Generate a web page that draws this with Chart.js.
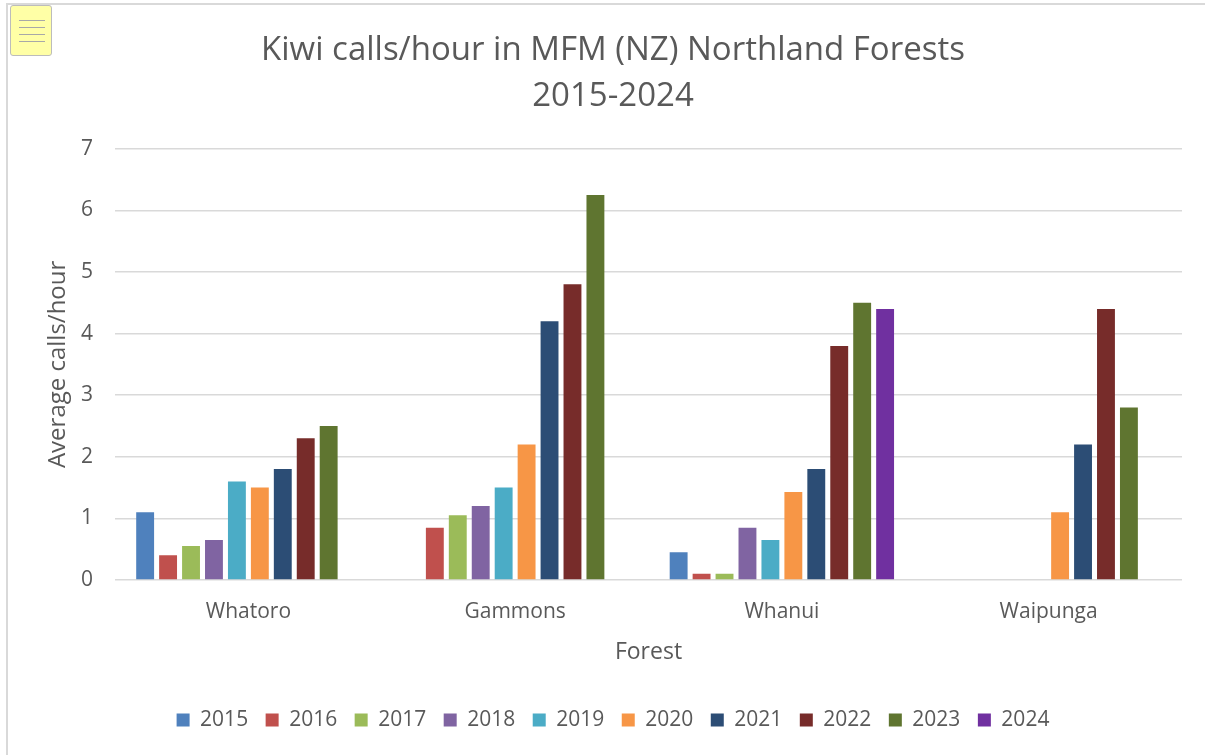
<!DOCTYPE html>
<html>
<head>
<meta charset="utf-8">
<script src="https://cdn.jsdelivr.net/npm/chart.js@4"></script>
<style>
  html, body { margin: 0; padding: 0; background: #fff; }
  #wrap { position: relative; width: 1205px; height: 755px; overflow: hidden; }
  #frameTop { position: absolute; left: 6px; top: 3px; width: 1199px; height: 2px; background: #d9d9d9; }
  #frameLeft { position: absolute; left: 6px; top: 3px; width: 2px; height: 752px; background: #d9d9d9; }
  #note { position: absolute; left: 10px; top: 5px; width: 40px; height: 49px; background: #ffffa6;
          border: 1px solid #bcbcbc; border-radius: 3px; }
  #note div { position: absolute; left: 8px; width: 26px; height: 1px; background: #a8a8a8; }
  canvas { position: absolute; left: 0; top: 0; }
</style>
</head>
<body>
<div id="wrap">
  <canvas id="chart" width="1205" height="755"></canvas>
  <div id="frameTop"></div>
  <div id="frameLeft"></div>
  <div id="note"><div style="top:14px"></div><div style="top:21px"></div><div style="top:28px"></div><div style="top:35px"></div></div>
</div>
<script>
// Forests on the x axis
const forests = ['Whatoro', 'Gammons', 'Whanui', 'Waipunga'];

// Average calls/hour per year, one value per forest (null = no survey)
const y2015 = [1.1, null, 0.45, null];
const y2016 = [0.4, 0.85, 0.1, null];
const y2017 = [0.55, 1.05, 0.1, null];
const y2018 = [0.65, 1.2, 0.85, null];
const y2019 = [1.6, 1.5, 0.65, null];
const y2020 = [1.5, 2.2, 1.43, 1.1];
const y2021 = [1.8, 4.2, 1.8, 2.2];
const y2022 = [2.3, 4.8, 3.8, 4.4];
const y2023 = [2.5, 6.25, 4.5, 2.8];
const y2024 = [null, null, 4.4, null];

const years = ['2015', '2016', '2017', '2018', '2019', '2020', '2021', '2022', '2023', '2024'];
const seriesValues = [y2015, y2016, y2017, y2018, y2019, y2020, y2021, y2022, y2023, y2024];

const YEAR_COLORS = [
  '#4f81bd', '#c0504d', '#9bbb59', '#8064a2', '#4bacc6',
  '#f79646', '#2c4d75', '#772c2a', '#5f7530', '#7030a0',
];

const TEXT = '#595959';
const GRID = '#d9d9d9';
const FONT = '"Open Sans", sans-serif';

const datasets = years.map((yr, i) => ({
  label: yr,
  data: seriesValues[i],
  backgroundColor: YEAR_COLORS[i],
  borderWidth: 0,
  categoryPercentage: 0.86,
  barPercentage: 0.78,
}));

new Chart(document.getElementById('chart'), {
  type: 'bar',
  data: { labels: forests, datasets },
  options: {
    responsive: false,
    animation: false,
    layout: { padding: { left: 44, right: 23, top: 0, bottom: 14.5 } },
    plugins: {
      title: {
        display: true,
        text: ['Kiwi calls/hour in MFM (NZ) Northland Forests', '2015-2024'],
        color: TEXT,
        font: { family: FONT, size: 33, weight: 'normal', lineHeight: 1.39 },
        padding: { top: 27.5, bottom: 29.5 },
      },
      legend: {
        position: 'bottom',
        labels: {
          color: TEXT,
          font: { family: FONT, size: 21 },
          boxWidth: 13,
          boxHeight: 13,
          padding: 17.5,
        },
      },
      tooltip: { enabled: false },
    },
    scales: {
      x: {
        grid: { display: false, drawTicks: false },
        border: { display: false },
        ticks: { color: TEXT, font: { family: FONT, size: 21 }, padding: 19 },
        title: {
          display: true, text: 'Forest', color: TEXT,
          font: { family: FONT, size: 23 }, padding: { top: 0, bottom: 26 },
        },
        afterFit: scale => { scale.height = 112; },
      },
      y: {
        min: 0,
        max: 7,
        ticks: { stepSize: 1, color: TEXT, font: { family: FONT, size: 21 }, padding: 22 },
        grid: { color: GRID, lineWidth: 1.5, drawTicks: false },
        border: { display: false },
        title: {
          display: true, text: 'Average calls/hour', color: TEXT,
          font: { family: FONT, size: 24 }, padding: { top: 0, bottom: 0 },
        },
        afterFit: scale => { scale.width = 71; },
      },
    },
  },
});
</script>
</body>
</html>
